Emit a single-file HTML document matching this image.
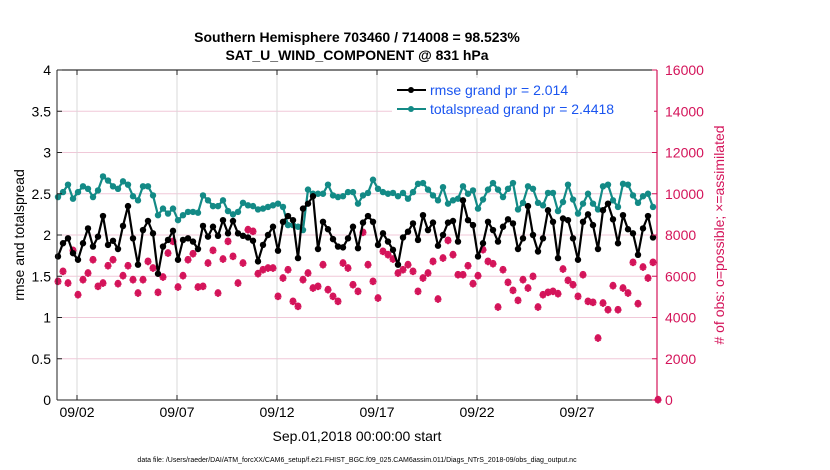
<!DOCTYPE html>
<html><head><meta charset="utf-8"><style>
body{margin:0;background:#fff;}
svg{display:block;font-family:"Liberation Sans",Arial,sans-serif;}
</style></head><body>
<svg id="chart" width="830" height="470" viewBox="0 0 830 470">
<rect width="830" height="470" fill="#fff"/>
<text x="357" y="42" text-anchor="middle" font-size="14" font-weight="bold">Southern Hemisphere 703460 / 714008 = 98.523%</text>
<text x="357" y="60" text-anchor="middle" font-size="14" font-weight="bold">SAT_U_WIND_COMPONENT @ 831 hPa</text>
<g id="grid"></g>
<g id="marks"></g>
<g id="axes"></g>
<text transform="translate(24,235) rotate(-90)" text-anchor="middle" font-size="14">rmse and totalspread</text>
<text transform="translate(724,235) rotate(-90)" text-anchor="middle" font-size="14" fill="#d4145a"># of obs: o=possible; ×=assimilated</text>
<text x="357" y="441" text-anchor="middle" font-size="14">Sep.01,2018 00:00:00 start</text>
<text x="357" y="462" text-anchor="middle" font-size="7">data file: /Users/raeder/DAI/ATM_forcXX/CAM6_setup/f.e21.FHIST_BGC.f09_025.CAM6assim.011/Diags_NTrS_2018-09/obs_diag_output.nc</text>
<g>
<rect x="392" y="78" width="262" height="40" fill="#fff"/>
<line x1="397" y1="90" x2="426" y2="90" stroke="#000" stroke-width="2"/><circle cx="411" cy="90" r="3" fill="#000"/>
<text x="430" y="95" font-size="14" fill="#1a55f0">rmse grand pr = 2.014</text>
<line x1="397" y1="109" x2="426" y2="109" stroke="#138a86" stroke-width="2"/><circle cx="411" cy="109" r="3" fill="#138a86"/>
<text x="430" y="114" font-size="14" fill="#1a55f0">totalspread grand pr = 2.4418</text>
</g>
</svg>
<script>
const rmse=[1.74,1.90,1.96,1.78,1.70,1.90,2.08,1.86,1.98,2.23,1.88,1.93,1.83,2.11,2.35,1.96,1.64,2.06,2.17,2.02,1.53,1.86,1.94,2.05,1.70,1.94,1.96,1.92,1.83,2.11,1.98,2.10,1.99,2.18,2.02,2.17,2.02,1.99,1.97,1.93,1.68,
1.88,2.00,2.10,1.81,2.16,2.23,2.18,1.72,2.32,2.38,2.47,1.83,2.16,2.07,1.95,1.86,1.85,1.96,2.10,1.84,2.15,2.23,2.16,1.88,2.02,1.92,1.82,1.64,1.97,2.04,2.14,1.94,2.24,2.06,2.15,1.87,2.00,2.15,2.17,1.92,
2.42,2.18,2.12,1.74,1.90,2.16,2.06,1.92,2.10,2.19,2.14,1.83,1.96,2.35,2.00,1.80,1.96,2.30,2.16,1.72,2.20,2.18,1.96,1.70,2.16,2.25,2.12,1.83,2.30,2.38,2.19,1.90,2.24,2.07,2.02,1.76,2.08,2.23,1.97];
const spread=[2.46,2.52,2.61,2.44,2.52,2.59,2.56,2.46,2.54,2.71,2.66,2.59,2.56,2.65,2.61,2.47,2.42,2.59,2.59,2.48,2.24,2.32,2.26,2.32,2.18,2.24,2.28,2.28,2.27,2.48,2.42,2.35,2.35,2.42,2.29,2.25,2.28,2.39,2.36,2.35,2.31,
2.32,2.34,2.36,2.38,2.34,2.12,2.12,2.10,2.06,2.55,2.50,2.50,2.50,2.61,2.48,2.46,2.47,2.52,2.52,2.38,2.48,2.51,2.67,2.56,2.52,2.50,2.51,2.47,2.51,2.44,2.52,2.62,2.63,2.55,2.48,2.42,2.58,2.38,2.42,2.44,
2.59,2.50,2.54,2.32,2.43,2.55,2.63,2.55,2.46,2.56,2.63,2.31,2.39,2.59,2.56,2.39,2.36,2.51,2.51,2.29,2.40,2.61,2.43,2.26,2.38,2.50,2.38,2.31,2.59,2.61,2.42,2.34,2.62,2.61,2.48,2.39,2.47,2.50,2.34];
const obsCount=[5737,6222,5656,7240,5091,5818,6141,6787,5494,5656,6496,6787,5624,6012,6496,5818,5171,5818,6706,6383,5204,5947,7110,7676,5462,6012,6787,7078,5462,5494,6626,7240,5171,6820,7676,6949,5656,6626,8242,8161,6109,
6302,6383,6383,5010,5898,6302,4767,4525,5818,6141,5414,5494,6545,5333,5010,4767,6626,6383,5575,5252,8113,6545,5737,4929,7191,7030,6820,6141,6302,6545,6222,5252,5898,6141,6706,4880,6868,7724,7030,6060,
6060,6496,5624,6012,7272,6706,6593,4493,6302,5688,5301,4816,5818,5414,5979,4493,5090,5204,5252,5139,6335,5786,5575,5010,6060,4767,4719,2990,4686,4363,5527,4363,5414,5171,6658,4654,6432,5898,6658,0];
const yTicksLeft=["0","0.5","1","1.5","2","2.5","3","3.5","4"];
const yTicksRight=["0","2000","4000","6000","8000","10000","12000","14000","16000"];
const xTickLabels=["09/02","09/07","09/12","09/17","09/22","09/27"];
const xTickDays=[1,6,11,16,21,26];

const NS="http://www.w3.org/2000/svg";
const X0=57,X1=657,Y0=400,Y1=70;
const xs=d=>X0+(d/30)*(X1-X0);
const yL=v=>Y0-(v/4)*(Y0-Y1);
const yR=v=>Y0-(v/16000)*(Y0-Y1);
const tOf=i=>i/4+0.05;
function mk(tag,attrs,parent){const e=document.createElementNS(NS,tag);for(const k in attrs)e.setAttribute(k,attrs[k]);parent.appendChild(e);return e;}
const gridG=document.getElementById('grid'),marksG=document.getElementById('marks'),axesG=document.getElementById('axes');
yTicksRight.forEach(l=>{const y=yR(+l);const g=mk('line',{x1:X0,x2:X1,y1:y,y2:y,stroke:'#f0c8d8','stroke-width':1},gridG);

});
xTickDays.forEach(d=>{const x=xs(d);const g=mk('line',{x1:x,x2:x,y1:Y1,y2:Y0,stroke:'#d8d8d8','stroke-width':1},gridG);

});
const red='#d4145a';
obsCount.forEach((c,i)=>{const x=xs(tOf(i)),y=yR(c);
const o=mk('circle',{cx:x,cy:y-1,r:2.6,fill:'none',stroke:red,'stroke-width':1.2},marksG);


const s=mk('path',{d:`M${x-3.5},${y}H${x+3.5}M${x},${y-3.5}V${y+3.5}M${x-2.5},${y-2.5}L${x+2.5},${y+2.5}M${x-2.5},${y+2.5}L${x+2.5},${y-2.5}`,stroke:red,'stroke-width':2},marksG);

});
function series(arr,color,name){
const pts=arr.map((v,i)=>xs(tOf(i)).toFixed(1)+','+yL(v).toFixed(1)).join(' ');
const pl=mk('polyline',{points:pts,fill:'none',stroke:color,'stroke-width':2.2,'stroke-linejoin':'round'},marksG);


arr.forEach((v,i)=>{const c=mk('circle',{cx:xs(tOf(i)),cy:yL(v),r:3.2,fill:color},marksG);

});}
series(spread,'#138a86','totalspread');
series(rmse,'#000','rmse');
const topLine=mk('line',{x1:X0,x2:X1,y1:Y1,y2:Y1,stroke:'#000','stroke-width':1},axesG);


const botLine=mk('line',{x1:X0,x2:X1,y1:Y0,y2:Y0,stroke:'#222','stroke-width':1},axesG);


const leftLine=mk('line',{x1:X0,x2:X0,y1:Y1,y2:Y0,stroke:'#222','stroke-width':1},axesG);


const rightLine=mk('line',{x1:X1,x2:X1,y1:Y1,y2:Y0,stroke:red,'stroke-width':1.2},axesG);


yTicksLeft.forEach(l=>{const y=yL(+l);
mk('line',{x1:X0,x2:X0+5,y1:y,y2:y,stroke:'#222'},axesG);
const t=mk('text',{x:X0-6,y:y+5,'text-anchor':'end','font-size':14},axesG);t.textContent=l;

});
yTicksRight.forEach(l=>{const y=yR(+l);
mk('line',{x1:X1-5,x2:X1,y1:y,y2:y,stroke:red},axesG);
const t=mk('text',{x:X1+8,y:y+5,'font-size':14,fill:red},axesG);t.textContent=l;

});
xTickLabels.forEach((l,i)=>{const x=xs(xTickDays[i]);
mk('line',{x1:x,x2:x,y1:Y0,y2:Y0-5,stroke:'#222'},axesG);
mk('line',{x1:x,x2:x,y1:Y1,y2:Y1+5,stroke:'#222'},axesG);
const t=mk('text',{x:x,y:Y0+17,'text-anchor':'middle','font-size':14},axesG);t.textContent=l;

});
</script>
</body></html>
